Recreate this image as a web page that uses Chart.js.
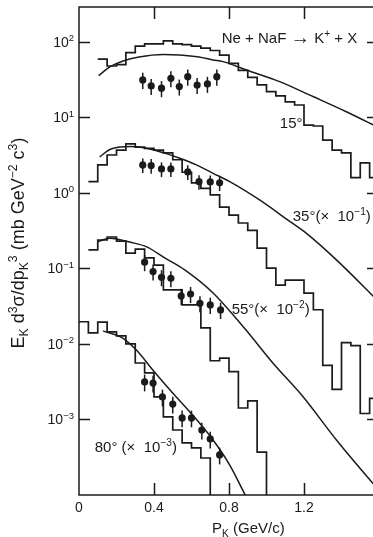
<!DOCTYPE html>
<html lang="en">
<head>
<meta charset="UTF-8">
<title>K+ invariant cross sections, Ne + NaF</title>
<script src="https://cdn.jsdelivr.net/npm/chart.js@4.4.0/dist/chart.umd.min.js"></script>
<style>
  html, body { margin: 0; padding: 0; background: #fff; overflow: hidden; }
  #wrap { width: 386px; height: 537px; }
</style>
</head>
<body>
<div id="wrap"><canvas id="spectra" width="386" height="537"></canvas></div>
<script>
const FONT = '"Liberation Sans", Arial, Helvetica, sans-serif';
const ink = '#1b1b1b';

// histogram bins: left edges in GeV/c, each value holds up to the next edge
const binEdges = [0.00, 0.05, 0.10, 0.15, 0.20, 0.25, 0.30, 0.35, 0.40, 0.45, 0.50,
                  0.55, 0.60, 0.65, 0.70, 0.75, 0.80, 0.85, 0.90, 0.95, 1.00, 1.05,
                  1.10, 1.15, 1.20, 1.25, 1.30, 1.35, 1.40, 1.45, 1.50, 1.55, 1.60];
// 1e-6 = empty bin (below the axis floor)
const hist15 = [null, null, 59, 48, 50, 72, 88, 94, 94, 103, 94,
                92, 88, 83, 77, 67, 52, 42, 34, 27, 22, 19.3,
                16.1, 14.6, 7.9, 7.7, 5.0, 3.7, 3.4, 1.6, 2.5, 1.6, 1.6];
const hist35 = [null, 1.41, 2.35, 3.18, 3.7, 4.46, 4.05, 3.9, 3.7, 3.4, 2.75,
                1.88, 1.36, 1.15, 0.94, 0.65, 0.51, 0.40, 0.32, 0.186, 0.101, 0.060,
                0.070, 0.070, 0.047, 0.0284, 0.0052, 0.0025, 0.0104, 0.0095, 0.0012, 0.0019, 0.0019];
const hist55 = [null, 0.176, 0.238, 0.261, 0.23, 0.160, 0.18, 0.138, 0.111, 0.052, 0.052,
                0.033, 0.033, 0.0163, 0.0060, 0.0065, 0.0043, 0.00142, 0.00176, 0.00037, 1e-6, null,
                null, null, null, null, null, null, null, null, null, null, null];
const hist80 = [0.0197, 0.0140, 0.0195, 0.0145, 0.0128, 0.0100, 0.0056, 0.00413, 0.00199, 0.00108, 0.000726,
                0.000489, 0.000420, 0.000309, 1e-6, null, null, null, null, null, null, null,
                null, null, null, null, null, null, null, null, null, null, null];

// model curves
const curve15P = [0.105, 0.164, 0.235, 0.32, 0.45, 0.537, 0.64, 0.713, 0.768, 0.893, 1.07, 1.248, 1.426, 1.60];
const curve15  = [35.8, 46.7, 56, 63.3, 68.3, 67.3, 63.3, 57.7, 54.8, 42.5, 29.8, 18.9, 11.9, 7.3];
const curve35P = [0.11, 0.16, 0.22, 0.28, 0.36, 0.448, 0.537, 0.626, 0.715, 0.804, 0.963, 1.124, 1.213, 1.373, 1.60];
const curve35  = [3.0, 3.7, 4.05, 4.12, 3.91, 3.42, 2.88, 2.35, 1.82, 1.41, 0.807, 0.42, 0.292, 0.130, 0.036];
const curve55P = [0.101, 0.164, 0.201, 0.27, 0.361, 0.457, 0.564, 0.715, 0.884, 1.035, 1.195, 1.373, 1.56, 1.60];
const curve55  = [0.226, 0.251, 0.246, 0.224, 0.193, 0.138, 0.0955, 0.0473, 0.0160, 0.00555, 0.00200, 0.000535, 0.000150, 0.000116];
const curve80P = [0.128, 0.235, 0.306, 0.398, 0.501, 0.590, 0.715, 0.804, 0.884, 0.92];
const curve80  = [0.0149, 0.0119, 0.0083, 0.00438, 0.00222, 0.00127, 0.000535, 0.000249, 0.000103, 0.00007];

// measured points with relative errors
const pts15P = [0.34, 0.385, 0.44, 0.49, 0.535, 0.58, 0.63, 0.685, 0.735];
const pts15  = [31.4, 26.1, 24.4, 33.0, 25.6, 34.7, 26.9, 27.8, 34.7];
const err15  = [0.24, 0.24, 0.24, 0.24, 0.24, 0.24, 0.24, 0.24, 0.24];
const pts35P = [0.34, 0.385, 0.44, 0.49, 0.58, 0.64, 0.70, 0.75];
const pts35  = [2.35, 2.31, 2.08, 2.08, 1.90, 1.41, 1.40, 1.36];
const err35  = [0.22, 0.22, 0.22, 0.22, 0.22, 0.22, 0.22, 0.22];
const pts55P = [0.35, 0.395, 0.44, 0.49, 0.545, 0.595, 0.645, 0.70, 0.755];
const pts55  = [0.121, 0.0908, 0.0764, 0.0741, 0.0433, 0.0459, 0.0346, 0.0329, 0.0282];
const err55  = [0.24, 0.24, 0.24, 0.24, 0.24, 0.24, 0.24, 0.24, 0.24];
const pts80P = [0.35, 0.395, 0.445, 0.50, 0.55, 0.60, 0.655, 0.70, 0.75];
const pts80  = [0.00314, 0.00304, 0.00199, 0.00160, 0.00105, 0.00105, 0.000726, 0.000552, 0.000339];
const err80  = [0.25, 0.25, 0.25, 0.25, 0.25, 0.25, 0.25, 0.25, 0.25];

const yTickExp = [2, 1, 0, -1, -2, -3];
const yExpText = ['2', '1', '0', '\u22121', '\u22122', '\u22123'];

// text placed in data coordinates (left edge, baseline)
const notes = [
  { p: 0.761, v: 97, size: 15, parts: [['Ne + NaF ', ''], ['\u2192', 'big'], [' K', ''], ['+', 'sup'], [' + X', '']] },
  { p: 1.071, v: 7.3, size: 15, parts: [['15\u00b0', '']] },
  { p: 1.140, v: 0.425, size: 15, parts: [['35\u00b0(\u00d7  10', ''], ['\u22121', 'sup'], [')', '']] },
  { p: 0.814, v: 0.0249, size: 15, parts: [['55\u00b0(\u00d7  10', ''], ['\u22122', 'sup'], [')', '']] },
  { p: 0.084, v: 0.000372, size: 15, parts: [['80\u00b0 (\u00d7  10', ''], ['\u22123', 'sup'], [')', '']] }
];

const pairs = (xs, ys) => xs.map((p, i) => ({ x: p, y: ys[i] })).filter(d => d.y !== null);

function hist(values) {
  return {
    data: pairs(binEdges, values), stepped: 'before', borderColor: ink,
    borderWidth: 1.7, pointRadius: 0, fill: false
  };
}
function curve(xs, ys) {
  return {
    data: pairs(xs, ys), borderColor: ink, borderWidth: 1.5, pointRadius: 0,
    cubicInterpolationMode: 'monotone', fill: false
  };
}
function points(xs, ys, errs) {
  return {
    data: pairs(xs, ys), errors: errs, showLine: false, pointRadius: 3.6,
    pointStyle: 'circle', pointBackgroundColor: ink, pointBorderWidth: 0
  };
}

// mixed text with super/subscripts
const partSize = (k, size) => k === 'big' ? size * 1.3 : k ? size * 0.68 : size;
function partsWidth(ctx, parts, size) {
  let w = 0;
  parts.forEach(([t, k]) => {
    ctx.font = partSize(k, size) + 'px ' + FONT;
    w += ctx.measureText(t).width;
  });
  return w;
}
function drawParts(ctx, parts, x, y, size, align) {
  const w = partsWidth(ctx, parts, size);
  let cx = align === 'center' ? x - w / 2 : align === 'right' ? x - w : x;
  ctx.textAlign = 'left';
  ctx.textBaseline = 'alphabetic';
  parts.forEach(([t, k]) => {
    ctx.font = partSize(k, size) + 'px ' + FONT;
    const dy = k === 'sup' ? -size * 0.4 : k === 'sub' ? size * 0.24 : k === 'big' ? size * 0.08 : 0;
    ctx.fillText(t, cx, y + dy);
    cx += ctx.measureText(t).width;
  });
}

const frame = {
  id: 'frame',
  afterDatasetsDraw(chart) {
    const { ctx, scales: { y } } = chart;
    ctx.save();
    ctx.strokeStyle = ink;
    ctx.lineWidth = 1.5;
    chart.data.datasets.forEach((ds, i) => {
      if (!ds.errors) return;
      chart.getDatasetMeta(i).data.forEach((pt, j) => {
        const v = ds.data[j].y, e = ds.errors[j];
        ctx.beginPath();
        ctx.moveTo(pt.x, y.getPixelForValue(v * (1 + e)));
        ctx.lineTo(pt.x, y.getPixelForValue(v * (1 - e)));
        ctx.stroke();
      });
    });
    ctx.restore();
  },
  afterDraw(chart) {
    const { ctx, chartArea: a, scales: { x, y } } = chart;
    ctx.save();
    ctx.strokeStyle = ink;
    ctx.fillStyle = ink;
    ctx.lineWidth = 1.5;
    ctx.strokeRect(a.left, a.top, a.right - a.left, a.bottom - a.top);

    // inward ticks
    ctx.beginPath();
    x.ticks.forEach(t => {
      if (t.value <= 0 || t.value >= 1.6) return;
      const px = Math.round(x.getPixelForValue(t.value)) + 0.5;
      ctx.moveTo(px, a.bottom); ctx.lineTo(px, a.bottom - 12);
      ctx.moveTo(px, a.top); ctx.lineTo(px, a.top + 12);
    });
    yTickExp.forEach(e => {
      const py = Math.round(y.getPixelForValue(Math.pow(10, e))) + 0.5;
      ctx.moveTo(a.left, py); ctx.lineTo(a.left + 11, py);
      ctx.moveTo(a.right, py); ctx.lineTo(a.right - 12, py);
    });
    ctx.stroke();

    // decade labels
    yTickExp.forEach((e, i) => {
      const py = y.getPixelForValue(Math.pow(10, e));
      drawParts(ctx, [['10', ''], [yExpText[i], 'sup']], a.left - 5, py + 5, 14, 'right');
    });

    notes.forEach(n => {
      drawParts(ctx, n.parts, x.getPixelForValue(n.p), y.getPixelForValue(n.v), n.size, 'left');
    });

    // axis titles
    drawParts(ctx, [['P', ''], ['K', 'sub'], [' (GeV/c)', '']], 212, 533, 15, 'left');
    ctx.translate(24, 243);
    ctx.rotate(-Math.PI / 2);
    drawParts(ctx, [['E', ''], ['K', 'sub'], [' d', ''], ['3', 'sup'], ['\u03c3/dp', ''], ['K', 'sub'],
                    ['3', 'sup'], [' (mb GeV', ''], ['\u22122', 'sup'], [' c', ''], ['3', 'sup'], [')', '']],
              0, 0, 18, 'center');
    ctx.restore();
  }
};

Chart.defaults.font.family = FONT;

new Chart(document.getElementById('spectra'), {
  type: 'line',
  data: {
    datasets: [
      hist(hist15), hist(hist35), hist(hist55), hist(hist80),
      curve(curve15P, curve15), curve(curve35P, curve35), curve(curve55P, curve55), curve(curve80P, curve80),
      points(pts15P, pts15, err15), points(pts35P, pts35, err35),
      points(pts55P, pts55, err55), points(pts80P, pts80, err80)
    ]
  },
  options: {
    responsive: false,
    animation: false,
    devicePixelRatio: 1,
    layout: { padding: { left: 79, right: 7, top: 7, bottom: 0 } },
    plugins: { legend: { display: false }, tooltip: { enabled: false } },
    scales: {
      x: {
        type: 'linear', min: 0, max: 1.6,
        grid: { display: false, drawTicks: false }, border: { display: false },
        ticks: {
          stepSize: 0.4, padding: 5, color: ink, maxRotation: 0, font: { size: 14 },
          callback: v => v >= 1.55 ? '' : (v === 0 ? '0' : v.toFixed(1))
        },
        afterFit: s => { s.height = 42; }
      },
      y: {
        type: 'logarithmic', min: 1e-4, max: 290,
        grid: { display: false }, border: { display: false },
        ticks: { display: false },
        afterFit: s => { s.width = 0; }
      }
    }
  },
  plugins: [frame]
});
</script>
</body>
</html>
